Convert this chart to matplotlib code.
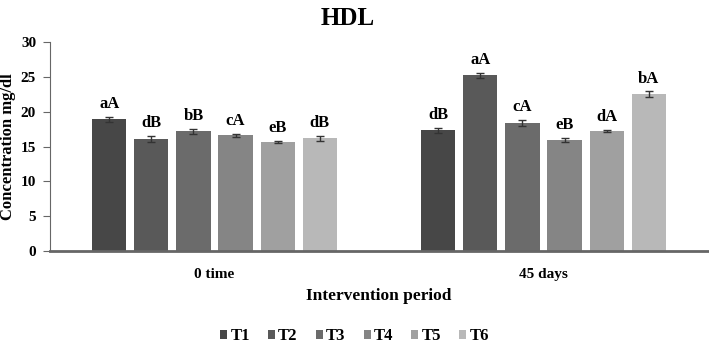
import numpy as np
import matplotlib.pyplot as plt

plt.rcParams['font.family'] = ['Liberation Serif', 'DejaVu Serif']
plt.rcParams['font.weight'] = 'bold'

periods = ['0 time', '45 days']
treatments = ['T1', 'T2', 'T3', 'T4', 'T5', 'T6']
t1 = [18.9, 17.3]
t2 = [16.1, 25.2]
t3 = [17.2, 18.4]
t4 = [16.6, 15.9]
t5 = [15.7, 17.2]
t6 = [16.2, 22.5]
err = [[0.35, 0.35], [0.4, 0.35], [0.35, 0.45], [0.2, 0.3], [0.15, 0.15], [0.35, 0.4]]
letters = [['aA', 'dB'], ['dB', 'aA'], ['bB', 'cA'], ['cA', 'eB'], ['eB', 'dA'], ['dB', 'bA']]
colors = ['#474747', '#595959', '#6b6b6b', '#858585', '#a0a0a0', '#b8b8b8']

values = [t1, t2, t3, t4, t5, t6]

fig = plt.figure(figsize=(7.09, 3.44), dpi=100)
ax = fig.add_axes([0.0705, 0.2703, 0.928, 0.6076])

x = np.arange(len(periods))
slot = 0.128
width = 0.104
for i, (name, vals) in enumerate(zip(treatments, values)):
    pos = x + (i - 2.5) * slot
    ax.bar(pos, vals, width, color=colors[i], label=name,
           yerr=err[i], capsize=3,
           error_kw=dict(ecolor='#333333', elinewidth=1, capthick=1))
    for p, v, e, t in zip(pos, vals, err[i], letters[i]):
        ax.text(p, v + e + 0.7, t, ha='center', va='bottom',
                fontsize=12, fontweight='bold')

ax.set_xlim(-0.5, 1.5)
ax.set_ylim(0, 30)
ax.set_yticks(range(0, 31, 5))
ax.set_xticks(x)
ax.set_xticklabels(periods, fontsize=11, fontweight='bold')
ax.tick_params(axis='x', length=0, pad=12)
ax.tick_params(axis='y', labelsize=11, length=5, color='#666666', pad=5)
for s in ['top', 'right']:
    ax.spines[s].set_visible(False)
ax.spines['bottom'].set_color('#666666')
ax.spines['bottom'].set_linewidth(2)
ax.spines['left'].set_color('#666666')
ax.set_ylabel('Concentration mg/dl', fontsize=12, fontweight='bold')
ax.yaxis.set_label_coords(-0.051, 0.5)
ax.set_xlabel('Intervention period', fontsize=12.5, fontweight='bold', labelpad=5)
ax.set_title('HDL', fontsize=18, fontweight='bold', pad=12, x=0.453)

fig.legend(loc='center', bbox_to_anchor=(0.5, 0.022), ncol=6, frameon=False,
           fontsize=12, handlelength=0.42, handleheight=0.42, columnspacing=1.08,
           handletextpad=0.2)

fig.savefig('out.png', dpi=100)
